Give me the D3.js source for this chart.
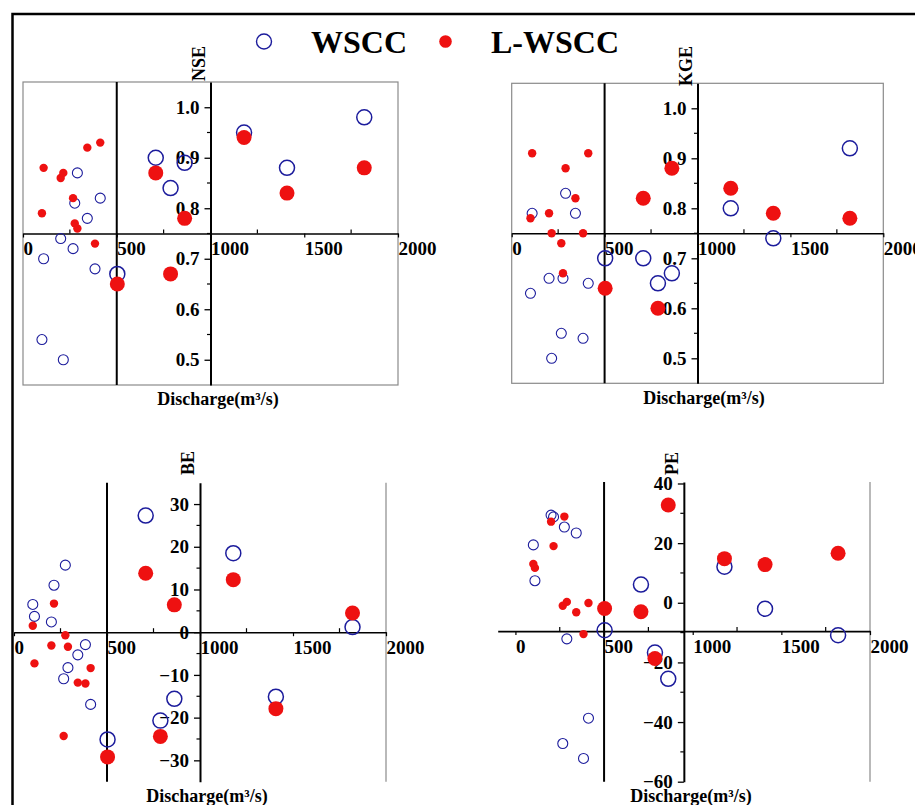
<!DOCTYPE html>
<html>
<head>
<meta charset="utf-8">
<script src="https://cdn.jsdelivr.net/npm/d3@7"></script>
<style>
  body { margin: 0; background: #fff; }
  svg { display: block; font-family: 'Liberation Serif', 'Times New Roman', serif; font-weight: bold; }
  .axis text { font-size: 19px; font-weight: bold; fill: #000; font-family: 'Liberation Serif', 'Times New Roman', serif; }
  .axis path, .axis line { stroke: #000; }
</style>
</head>
<body>
<script>
// station discharge (m3/s), same stations in every panel
const discharge = [101, 110, 201, 215, 267, 276, 290, 343, 384, 412, 503, 708, 787, 862, 1179, 1408, 1820];

const nseWSCC  = [0.54, 0.70, 0.74, 0.50, 0.72, 0.81, 0.87, 0.78, 0.68, 0.82, 0.67, 0.90, 0.84, 0.89, 0.95, 0.88, 0.98];
const nseLWSCC = [0.79, 0.88, 0.86, 0.87, 0.82, 0.77, 0.76, 0.92, 0.73, 0.93, 0.65, 0.87, 0.67, 0.78, 0.94, 0.83, 0.88];

const kgeWSCC  = [0.63, 0.79, 0.66, 0.50, 0.55, 0.66, 0.83, 0.79, 0.54, 0.65, 0.70, 0.70, 0.65, 0.67, 0.80, 0.74, 0.92];
const kgeLWSCC = [0.78, 0.91, 0.79, 0.75, 0.73, 0.67, 0.88, 0.82, 0.75, 0.91, 0.64, 0.82, 0.60, 0.88, 0.84, 0.79, 0.78];

const beWSCC  = [6.5, 3.7, 2.4, 11.0, -10.9, 15.7, -8.3, -5.3, -2.9, -16.9, -25.1, 27.3, -20.7, -15.6, 18.5, -15.1, 1.2];
const beLWSCC = [1.5, -7.3, -3.1, 6.7, -24.3, -0.7, -3.4, -11.8, -12.0, -8.4, -29.2, 13.8, -24.4, 6.4, 12.3, -17.9, 4.5];

const peWSCC  = [19.4, 7.4, 29.4, 28.8, -47.2, 25.4, -12.1, 23.4, -52.2, -38.7, -9.2, 6.1, -16.7, -25.5, 12.1, -2.0, -10.9];
const peLWSCC = [13.0, 11.7, 27.2, 19.0, -1.0, 28.9, 0.3, -3.2, -10.5, -0.1, -1.9, -3.0, -18.7, 32.8, 14.8, 12.8, 16.6];

const seriesNames = ['WSCC', 'L-WSCC'];
const xTicks = [0, 500, 1000, 1500, 2000];
const xMinorTicks = [250, 750, 1250, 1750];
const effTicks = [0.5, 0.6, 0.7, 0.8, 0.9, 1.0];
const effMinor = [0.55, 0.65, 0.75, 0.85, 0.95];
const beTicks = [-30, -20, -10, 0, 10, 20, 30];
const beMinor = [-25, -15, -5, 5, 15, 25];
const peTicks = [-60, -40, -20, 0, 20, 40];
const peMinor = [-50, -30, -10, 10, 30];

const blue = '#1c1c9c';
const red = '#ee1111';

const svg = d3.select('body').append('svg')
  .attr('width', 915)
  .attr('height', 805);

// outer frame (cropped on right / bottom)
svg.append('path')
  .attr('d', 'M12.5,805V14H915')
  .attr('fill', 'none')
  .attr('stroke', '#000')
  .attr('stroke-width', 2.5);

// legend
let legend = svg.append('g');
legend.append('circle')
  .attr('cx', 264).attr('cy', 41.5).attr('r', 7.5)
  .attr('fill', 'none').attr('stroke', blue).attr('stroke-width', 1.4);
legend.append('text')
  .attr('x', 311).attr('y', 52.5)
  .attr('font-size', 32)
  .text(seriesNames[0]);
legend.append('circle')
  .attr('cx', 445.5).attr('cy', 41.5).attr('r', 6.3)
  .attr('fill', red);
legend.append('text')
  .attr('x', 491).attr('y', 52.5)
  .attr('font-size', 32)
  .text(seriesNames[1]);

let panels = [
  {
    title: 'NSE', wscc: nseWSCC, lwscc: nseLWSCC,
    left: 23, right: 398, top: 82, bottom: 385,
    xDomain: [0, 2000], yDomain: [0.45, 1.05],
    xCross: 0.75, yCross: 1000,
    ticks: effTicks, minor: effMinor, fmt: d3.format('.1f'),
    box: true, titleEnd: 81, labelX: 218, labelY: 405
  },
  {
    title: 'KGE', wscc: kgeWSCC, lwscc: kgeLWSCC,
    left: 511.7, right: 883.3, top: 83.3, bottom: 383.3,
    xDomain: [0, 2000], yDomain: [0.45, 1.05],
    xCross: 0.75, yCross: 1000,
    ticks: effTicks, minor: effMinor, fmt: d3.format('.1f'),
    box: true, titleEnd: 86, labelX: 704, labelY: 404
  },
  {
    title: 'BE', wscc: beWSCC, lwscc: beLWSCC,
    left: 14, right: 386, top: 482.7, bottom: 781.7,
    xDomain: [0, 2000], yDomain: [-35, 35],
    xCross: 0, yCross: 1000,
    ticks: beTicks, minor: beMinor, fmt: d3.format('d'),
    box: false, titleEnd: 475, labelX: 207, labelY: 802
  },
  {
    title: 'PE', wscc: peWSCC, lwscc: peLWSCC,
    left: 497.7, right: 870, top: 482, bottom: 781.7,
    xDomain: [-100, 2000], yDomain: [-60, 40.5],
    xCross: -9.5, yCross: 950,
    ticks: peTicks, minor: peMinor, fmt: d3.format('d'),
    box: false, titleEnd: 475, labelX: 691, labelY: 802
  }
];

panels.forEach(function(p) {
  let x = d3.scaleLinear().domain(p.xDomain).range([p.left, p.right]);
  let y = d3.scaleLinear().domain(p.yDomain).range([p.bottom, p.top]);
  let g = svg.append('g');

  // panel frame
  if (p.box) {
    g.append('rect')
      .attr('x', p.left).attr('y', p.top)
      .attr('width', p.right - p.left).attr('height', p.bottom - p.top)
      .attr('fill', 'none').attr('stroke', '#8a8a8a').attr('stroke-width', 1.2);
  } else {
    g.append('line')
      .attr('x1', p.right).attr('x2', p.right)
      .attr('y1', p.top).attr('y2', p.bottom)
      .attr('stroke', '#8a8a8a').attr('stroke-width', 1.2);
  }

  // divider at 500 m3/s
  g.append('line')
    .attr('x1', x(500)).attr('x2', x(500))
    .attr('y1', p.top).attr('y2', p.bottom)
    .attr('stroke', '#000').attr('stroke-width', 2);

  // x axis through the middle
  let xAxis = d3.axisBottom(x)
    .tickValues(xTicks)
    .tickSizeInner(4)
    .tickSizeOuter(0)
    .tickFormat(d3.format('d'));
  let xg = g.append('g')
    .attr('class', 'axis')
    .attr('transform', 'translate(0,' + y(p.xCross) + ')')
    .call(xAxis);
  xg.select('.domain').attr('stroke-width', 1.6);
  xg.selectAll('.tick line').attr('stroke-width', 1.2);
  xg.selectAll('.tick text')
    .attr('text-anchor', 'start')
    .attr('x', 0)
    .attr('y', 8);
  xg.selectAll('.minor')
    .data(xMinorTicks)
    .enter().append('line')
    .attr('x1', d => x(d)).attr('x2', d => x(d))
    .attr('y1', -4).attr('y2', 0)
    .attr('stroke', '#000').attr('stroke-width', 1.2);

  // y axis
  let yAxis = d3.axisLeft(y)
    .tickValues(p.ticks)
    .tickSizeInner(6)
    .tickSizeOuter(0)
    .tickPadding(5)
    .tickFormat(p.fmt);
  let yg = g.append('g')
    .attr('class', 'axis')
    .attr('transform', 'translate(' + x(p.yCross) + ',0)')
    .call(yAxis);
  yg.select('.domain').attr('stroke-width', 2);
  yg.selectAll('.tick line').attr('stroke-width', 1.3);
  yg.selectAll('.minor')
    .data(p.minor)
    .enter().append('line')
    .attr('x1', -3.5).attr('x2', 0)
    .attr('y1', d => y(d)).attr('y2', d => y(d))
    .attr('stroke', '#000').attr('stroke-width', 1.2);

  // y title, reading upward, ending just above the frame
  g.append('text')
    .attr('transform', 'translate(' + (x(p.yCross) - 6) + ',' + p.titleEnd + ') rotate(-90)')
    .attr('text-anchor', 'start')
    .attr('font-size', 18)
    .text(p.title);

  // x title
  g.append('text')
    .attr('x', p.labelX).attr('y', p.labelY)
    .attr('text-anchor', 'middle')
    .attr('font-size', 18)
    .text('Discharge(m\u00B3/s)');

  // points: WSCC open circles, L-WSCC filled
  let rows = discharge.map(function(q, i) {
    return {q: q, w: p.wscc[i], l: p.lwscc[i], big: q > 450};
  });

  g.selectAll('.wscc')
    .data(rows)
    .enter().append('circle')
    .attr('class', 'wscc')
    .attr('cx', d => x(d.q))
    .attr('cy', d => y(d.w))
    .attr('r', d => d.big ? 7.5 : 5)
    .attr('fill', 'none')
    .attr('stroke', blue)
    .attr('stroke-width', d => d.big ? 1.5 : 1.1);

  g.selectAll('.lwscc')
    .data(rows)
    .enter().append('circle')
    .attr('class', 'lwscc')
    .attr('cx', d => x(d.q))
    .attr('cy', d => y(d.l))
    .attr('r', d => d.big ? 7.5 : 4.2)
    .attr('fill', red);
});
</script>
</body>
</html>
